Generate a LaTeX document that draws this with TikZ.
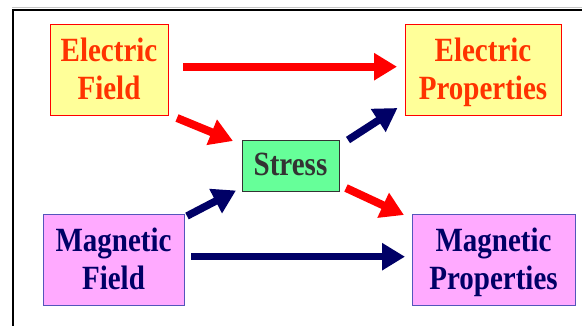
\documentclass[tikz,border=0pt]{standalone}
\usepackage{fontspec}
\usepackage{graphicx}
\setmainfont{Liberation Serif}
\usetikzlibrary{arrows.meta}
\definecolor{eyellow}{HTML}{FFFF99}
\definecolor{ered}{HTML}{FF0000}
\definecolor{etext}{HTML}{FF3300}
\definecolor{sgreen}{HTML}{66FF99}
\definecolor{sdark}{HTML}{333333}
\definecolor{mpink}{HTML}{FFAAFF}
\definecolor{mborder}{HTML}{5555BB}
\definecolor{navy}{HTML}{000066}
\newcommand\boxtext[1]{\scalebox{1}[1.17]{\begin{tabular}{@{}c@{}}#1\end{tabular}}}
\tikzset{
  box/.style={rectangle, inner sep=0pt, align=center, line width=1pt,
    font=\fontsize{29}{32.5}\selectfont\bfseries},
  ebox/.style={box, draw=ered, fill=eyellow, text=etext},
  sbox/.style={box, draw=sdark, fill=sgreen, text=sdark},
  mbox/.style={box, draw=mborder, fill=mpink, text=navy},
  boxlabel/.style={inner sep=0pt, align=center,
    font=\fontsize{29}{32.5}\selectfont\bfseries},
  redarrow/.style={draw=ered, line width=8pt, -{Triangle[width=26pt,length=23pt]}},
  navyarrow/.style={draw=navy, line width=7.5pt, -{Triangle[width=26pt,length=23pt]}}
}
\begin{document}
\begin{tikzpicture}[x=1pt,y=-1pt]
\useasboundingbox (0,0) rectangle (582,326);
% frame
\draw[gray!45, line width=1pt] (12,8) -- (582,8);
\draw[black, line width=2pt] (12.5,326) -- (12.5,10.5) -- (582,10.5);
% boxes
\node[ebox, minimum width=118pt, minimum height=91pt] (ef) at (109,70.5) {};
\node[ebox, minimum width=156pt, minimum height=91pt] (ep) at (483,70.5) {};
\node[sbox, minimum width=97pt, minimum height=51pt] (st) at (290.5,166.5) {};
\node[mbox, minimum width=141pt, minimum height=91pt] (mf) at (113.5,260.5) {};
\node[mbox, minimum width=163pt, minimum height=91pt] (mp) at (493.5,260.5) {};
% labels
\node[boxlabel, text=etext] (eft) at ([yshift=-2pt]ef.center) {\boxtext{Electric\\Field}};
\node[boxlabel, text=etext] (ept) at ([yshift=-2pt]ep.center) {\boxtext{Electric\\Properties}};
\node[boxlabel, text=sdark] (stt) at ([yshift=-1pt]st.center) {\boxtext{Stress}};
\node[boxlabel, text=navy] (mft) at ([yshift=-2pt]mf.center) {\boxtext{Magnetic\\Field}};
\node[boxlabel, text=navy] (mpt) at ([yshift=-2pt]mp.center) {\boxtext{Magnetic\\Properties}};
% arrow end points
\coordinate (a1s) at (183,66.7);  \coordinate (a1e) at (397,66.7);
\coordinate (a2s) at (177,118);   \coordinate (a2e) at (233,141);
\coordinate (a3s) at (348,140);   \coordinate (a3e) at (397.5,108);
\coordinate (a4s) at (187,216);   \coordinate (a4e) at (236,190.5);
\coordinate (a5s) at (346,188);   \coordinate (a5e) at (404,215);
\coordinate (a6s) at (191,256.7); \coordinate (a6e) at (405,256.7);
% arrows
\draw[redarrow] (a1s) -- (a1e);
\draw[redarrow] (a2s) -- (a2e);
\draw[navyarrow] (a3s) -- (a3e);
\draw[navyarrow] (a4s) -- (a4e);
\draw[redarrow] (a5s) -- (a5e);
\draw[navyarrow] (a6s) -- (a6e);
\end{tikzpicture}
\end{document}
